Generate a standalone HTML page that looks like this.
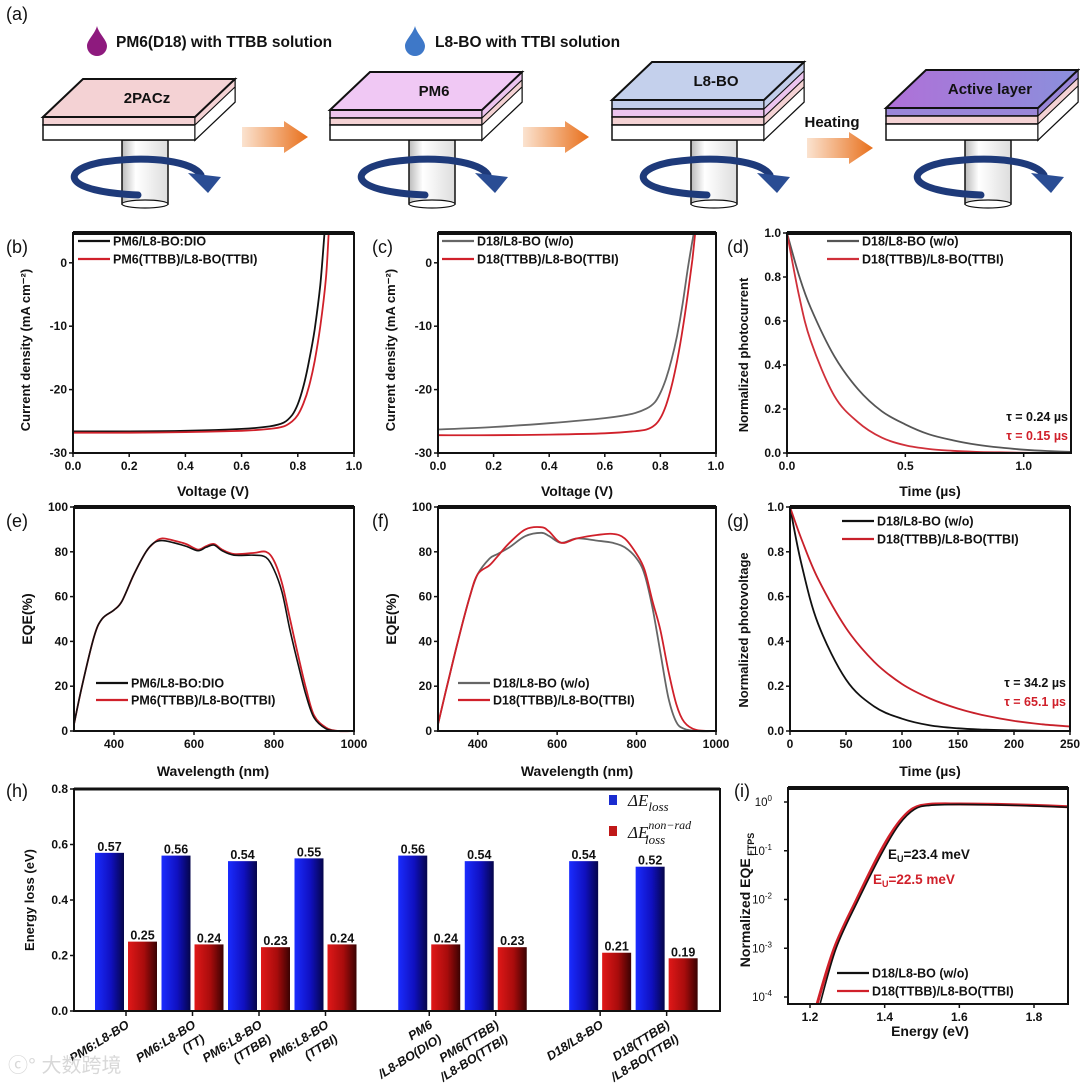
<!DOCTYPE html>
<html><head><meta charset="utf-8">
<style>
html,body{margin:0;padding:0;background:#fff;}
svg{display:block;font-family:"Liberation Sans",sans-serif;}
text{font-weight:bold;}
</style></head>
<body>
<svg id="fig" width="1080" height="1083" viewBox="0 0 1080 1083" xmlns="http://www.w3.org/2000/svg">
<defs>
<linearGradient id="gBlue" x1="0" x2="1" y1="0" y2="0"><stop offset="0" stop-color="#1a2cff"/><stop offset="0.55" stop-color="#1010c0"/><stop offset="1" stop-color="#05054a"/></linearGradient>
<linearGradient id="gRed" x1="0" x2="1" y1="0" y2="0"><stop offset="0" stop-color="#e01818"/><stop offset="0.55" stop-color="#a80c0c"/><stop offset="1" stop-color="#3a0202"/></linearGradient>
<linearGradient id="gOrange" x1="0" x2="1" y1="0" y2="0"><stop offset="0" stop-color="#fbe3d0"/><stop offset="1" stop-color="#e8701c"/></linearGradient>
<linearGradient id="gPillar" x1="0" x2="1" y1="0" y2="0"><stop offset="0" stop-color="#bbb"/><stop offset="0.3" stop-color="#fff"/><stop offset="1" stop-color="#ddd"/></linearGradient>
<linearGradient id="gActive" x1="0" x2="1" y1="0" y2="0"><stop offset="0" stop-color="#b070d8"/><stop offset="1" stop-color="#8a90dc"/></linearGradient>
</defs>
</svg>
<script>
const NS='http://www.w3.org/2000/svg';
const svg=document.getElementById('fig');
function mk(tag,attrs,name,parent){
  const e=document.createElementNS(NS,tag);
  for(const k in attrs) e.setAttribute(k,attrs[k]);
  
  
  (parent||svg).appendChild(e); return e;
}
function txt(x,y,s,name,opt){
  opt=opt||{};
  const t=mk('text',{x:x,y:y,'font-size':opt.size||12,fill:opt.fill||'#111','text-anchor':opt.anchor||'start'},name);
  if(opt.transform) t.setAttribute('transform',opt.transform);
  if(opt.style) t.setAttribute('style',opt.style);
  t.textContent=s; return t;
}

/* ---------------- DATA ---------------- */
const bV_black=[0,0.2,0.4,0.6,0.7,0.75,0.78,0.8,0.82,0.84,0.86,0.88,0.895];
const bJ_black=[-26.6,-26.6,-26.5,-26.2,-25.8,-25.2,-24.0,-22.3,-19.5,-15.5,-10.5,-3.5,4.7];
const bV_red=[0,0.2,0.4,0.6,0.7,0.75,0.78,0.8,0.82,0.84,0.86,0.88,0.9,0.91];
const bJ_red=[-26.8,-26.8,-26.7,-26.5,-26.2,-25.8,-25.0,-24.0,-22.2,-19.5,-15.5,-10.0,-2.5,4.7];
const cV_gray=[0,0.2,0.4,0.6,0.7,0.75,0.78,0.8,0.82,0.84,0.86,0.88,0.9,0.92];
const cJ_gray=[-26.3,-25.9,-25.3,-24.5,-23.8,-23.0,-22.0,-20.5,-18.3,-15.3,-11.5,-6.5,-0.5,4.7];
const cV_red=[0,0.2,0.4,0.6,0.7,0.75,0.78,0.8,0.82,0.84,0.86,0.88,0.9,0.915,0.925];
const cJ_red=[-27.2,-27.2,-27.1,-26.9,-26.6,-26.3,-25.6,-24.5,-22.5,-19.5,-15.5,-10.5,-4.5,0.5,4.7];
const dT=[0,0.05,0.1,0.2,0.3,0.4,0.5,0.6,0.7,0.8,0.9,1.0,1.1,1.2];
const dGray=[1.0,0.81,0.66,0.44,0.29,0.19,0.13,0.085,0.058,0.038,0.025,0.015,0.009,0.005];
const dRed=[1.0,0.72,0.51,0.26,0.14,0.07,0.035,0.018,0.01,0.005,0.003,0.001,0.0,0.0];
const eW=[300,320,350,370,400,420,450,480,500,520,550,580,610,630,650,670,700,750,780,800,820,840,860,880,900,930,960,1000];
const eBlack=[3,20,42,50,54,58,70,80,84,85,84,82.5,80.5,82,83,80.5,78.5,78.5,77.5,72,62,45,30,16,6,1,0,0];
const eRed=[3,20,42,50,54,58,70,80,84,86,85,83.5,81,82.5,83.5,81,79,79.5,80,76,66,50,34,19,7,1.5,0,0];
const fW=[300,320,350,380,400,430,450,480,520,560,580,610,650,700,740,770,800,820,840,860,880,900,920,950,1000];
const fGray=[3,18,40,60,70,77,79,82,87,88.5,87,84,86,85,84,82,77,70,55,35,15,4,1,0,0];
const fRed=[3,18,40,60,70,74,78,84,90,91,89,84,86,87.5,88,86,79,72,58,45,27,12,4,0.5,0];
const gT=[0,10,25,50,75,100,125,150,175,200,225,250];
const gBlack=[1.0,0.75,0.48,0.23,0.11,0.055,0.025,0.012,0.006,0.003,0.001,0.0];
const gRed=[1.0,0.86,0.68,0.46,0.31,0.21,0.145,0.1,0.068,0.045,0.03,0.02];
const hCats=[['PM6:L8-BO'],['PM6:L8-BO','(TT)'],['PM6:L8-BO','(TTBB)'],['PM6:L8-BO','(TTBI)'],['PM6','/L8-BO(DIO)'],['PM6(TTBB)','/L8-BO(TTBI)'],['D18/L8-BO'],['D18(TTBB)','/L8-BO(TTBI)']];
const hSlot=[0,1,2,3,4.56,5.56,7.13,8.13];
const hLoss=[0.57,0.56,0.54,0.55,0.56,0.54,0.54,0.52];
const hNonRad=[0.25,0.24,0.23,0.24,0.24,0.23,0.21,0.19];
const iE_black=[1.225,1.27,1.33,1.396,1.44,1.48,1.52,1.6,1.7,1.8,1.9];
const iL_black=[-4.2,-3.0,-2.0,-1.0,-0.45,-0.15,-0.07,-0.05,-0.06,-0.08,-0.11];
const iE_red=[1.215,1.265,1.325,1.39,1.435,1.475,1.52,1.6,1.7,1.8,1.9];
const iL_red=[-4.25,-3.0,-2.0,-1.0,-0.45,-0.14,-0.05,-0.04,-0.05,-0.07,-0.1];

/* ---------------- AXES ---------------- */
function lin(d0,d1,r0,r1){return v=>r0+(v-d0)*(r1-r0)/(d1-d0);}
function frame(p,name){
  mk('rect',{x:p.x0,y:p.y0,width:p.x1-p.x0,height:p.y1-p.y0,fill:'none',stroke:'#111','stroke-width':2},name+'-frame');
  mk('line',{x1:p.x0,x2:p.x1,y1:p.y0,y2:p.y0,stroke:'#111','stroke-width':4},name+'-top-axis');
}
function xticks(p,vals,labels,name){
  vals.forEach((v,i)=>{
    const x=p.sx(v);
    mk('line',{x1:x,x2:x,y1:p.y1,y2:p.y1+4,stroke:'#111','stroke-width':1.5},name+'-x-tick');
    txt(x,p.y1+17,labels[i],name+'-x-tick-label',{anchor:'middle',size:12});
  });
}
function yticks(p,vals,labels,name){
  vals.forEach((v,i)=>{
    const y=p.sy(v);
    mk('line',{x1:p.x0-4,x2:p.x0,y1:y,y2:y,stroke:'#111','stroke-width':1.5},name+'-y-tick');
    txt(p.x0-6,y+4,labels[i],name+'-y-tick-label',{anchor:'end',size:12});
  });
}
function series(p,xs,ys,color,name,w){
  const P=xs.map((x,i)=>[p.sx(x),p.sy(ys[i])]);
  let d='M'+P[0][0].toFixed(1)+','+P[0][1].toFixed(1);
  for(let i=0;i<P.length-1;i++){
    const p0=P[Math.max(0,i-1)],p1=P[i],p2=P[i+1],p3=P[Math.min(P.length-1,i+2)];
    const c1x=p1[0]+(p2[0]-p0[0])/6,c1y=p1[1]+(p2[1]-p0[1])/6;
    const c2x=p2[0]-(p3[0]-p1[0])/6,c2y=p2[1]-(p3[1]-p1[1])/6;
    d+=' C'+c1x.toFixed(1)+','+c1y.toFixed(1)+' '+c2x.toFixed(1)+','+c2y.toFixed(1)+' '+p2[0].toFixed(1)+','+p2[1].toFixed(1);
  }
  mk('path',{d:d,fill:'none',stroke:color,'stroke-width':w||1.8,'stroke-linejoin':'round'},name);
}
function clip(p,id){
  const c=mk('clipPath',{id:id},id);
  mk('rect',{x:p.x0,y:p.y0,width:p.x1-p.x0,height:p.y1-p.y0},id+'-rect',c);
}
function legendLine(x,y,color,label,name){
  mk('line',{x1:x,x2:x+32,y1:y,y2:y,stroke:color,'stroke-width':2.2},name+'-swatch');
  txt(x+35,y+4.5,label,name+'-label',{size:12.5});
}
function ytitle(x,yc,s,name,size){
  txt(x,yc,s,name,{anchor:'middle',size:size||13,transform:'rotate(-90 '+x+' '+yc+')'});
}

/* ---------- (a) schematic ---------- */
txt(6,20,'(a)','panel-label-a',{size:18,style:'font-weight:normal'});
function drop(x,y,color,name){
  mk('path',{d:`M${x},${y} C${x+2},${y+8} ${x+10},${y+14} ${x+10},${y+20} A10,10 0 1 1 ${x-10},${y+20} C${x-10},${y+14} ${x-2},${y+8} ${x},${y} Z`,fill:color},name);
}
drop(97,26,'#8e1a7e','ttbb-drop-icon');
txt(116,47,'PM6(D18) with TTBB solution','ttbb-solution-label',{size:15.5});
drop(415,26,'#3e78c8','ttbi-drop-icon');
txt(435,47,'L8-BO with TTBI solution','ttbi-solution-label',{size:15.5});

function stack(dx,layers,topColor,label,name){
  const W=152, OX=40, OY=38, bottom=140;
  let h=layers.reduce((a,l)=>a+l[1],0);
  const top=bottom-h;
  const x0=43+dx;
  mk('rect',{x:x0+79,y:bottom,width:46,height:64,fill:'url(#gPillar)',stroke:'#111','stroke-width':1.5},name+'-pillar');
  mk('ellipse',{cx:x0+102,cy:bottom+64,rx:23,ry:4,fill:'#fff',stroke:'#111','stroke-width':1.2},name+'-pillar-base');
  mk('path',{d:`M${x0+95},${bottom+55} C${x0+20},${bottom+52} ${x0+15},${bottom+30} ${x0+60},${bottom+22} C${x0+110},${bottom+15} ${x0+150},${bottom+22} ${x0+158},${bottom+35}`,fill:'none',stroke:'#1e3a7a','stroke-width':7,'stroke-linecap':'round'},name+'-rotation-arrow');
  mk('path',{d:`M${x0+145},${bottom+33} L${x0+178},${bottom+37} L${x0+165},${bottom+53} Z`,fill:'#2a4d94'},name+'-rotation-arrowhead');
  mk('polygon',{points:`${x0+W},${top} ${x0+W+OX},${top-OY} ${x0+W+OX},${bottom-OY} ${x0+W},${bottom}`,fill:'#ddd',stroke:'#111','stroke-width':1.5},name+'-side');
  let y=top;
  layers.forEach((l,i)=>{
    mk('rect',{x:x0,y:y,width:W,height:l[1],fill:l[0],stroke:'#111','stroke-width':1.5},name+'-layer-'+i);
    mk('polygon',{points:`${x0+W},${y} ${x0+W+OX},${y-OY} ${x0+W+OX},${y-OY+l[1]} ${x0+W},${y+l[1]}`,fill:l[0],stroke:'#111','stroke-width':1},name+'-layer-side-'+i);
    y+=l[1];
  });
  mk('polygon',{points:`${x0},${top} ${x0+OX},${top-OY} ${x0+W+OX},${top-OY} ${x0+W},${top}`,fill:topColor,stroke:'#111','stroke-width':2},name+'-top-face');
  txt(x0+(W+OX)/2+8,top-OY/2+5,label,name+'-label',{anchor:'middle',size:15});
}
stack(0,[['#f4d2d4',8],['#fff',15]],'#f4d2d4','2PACz','stack-2pacz');
stack(287,[['#ecc4ee',8],['#f4d2d4',7],['#fff',15]],'#f0c8f4','PM6','stack-pm6');
stack(569,[['#c2cdea',9],['#ecc4ee',8],['#f4d2d4',8],['#fff',15]],'#c4d0ec','L8-BO','stack-l8bo');
stack(843,[['#9a86d8',8],['#f4d2d4',8],['#fff',16]],'url(#gActive)','Active layer','stack-active-layer');
function orangeArrow(x,y,name){
  mk('path',{d:`M${x},${y+6} L${x+42},${y+6} L${x+42},${y} L${x+66},${y+16} L${x+42},${y+32} L${x+42},${y+26} L${x},${y+26} Z`,fill:'url(#gOrange)'},name);
}
orangeArrow(242,121,'process-arrow-1');
orangeArrow(523,121,'process-arrow-2');
orangeArrow(807,132,'process-arrow-3');
txt(832,127,'Heating','heating-label',{anchor:'middle',size:15});

/* ---------- (b) ---------- */
const pb={x0:73,x1:354,y0:233,y1:453};pb.sx=lin(0,1,pb.x0,pb.x1);pb.sy=lin(-30,4.7,pb.y1,pb.y0);
clip(pb,'clip-b');
const gb=mk('g',{'clip-path':'url(#clip-b)'},'plot-b-series');
series(pb,bV_black,bJ_black,'#111','b-series-pm6-dio');gb.appendChild(svg.lastChild);
series(pb,bV_red,bJ_red,'#d0202a','b-series-ttbb-ttbi');gb.appendChild(svg.lastChild);
frame(pb,'plot-b');
xticks(pb,[0,0.2,0.4,0.6,0.8,1.0],['0.0','0.2','0.4','0.6','0.8','1.0'],'plot-b');
yticks(pb,[-30,-20,-10,0],['-30','-20','-10','0'],'plot-b');
ytitle(30,350,'Current density (mA cm\u207B\u00B2)','plot-b-y-title',13);
txt(213,496,'Voltage (V)','plot-b-x-title',{anchor:'middle',size:14});
legendLine(78,241,'#111','PM6/L8-BO:DIO','b-legend-pm6-dio');
legendLine(78,259,'#d0202a','PM6(TTBB)/L8-BO(TTBI)','b-legend-ttbb-ttbi');
txt(6,253,'(b)','panel-label-b',{size:18,style:'font-weight:normal'});

/* ---------- (c) ---------- */
const pc={x0:438,x1:716,y0:233,y1:453};pc.sx=lin(0,1,pc.x0,pc.x1);pc.sy=lin(-30,4.7,pc.y1,pc.y0);
clip(pc,'clip-c');
const gc=mk('g',{'clip-path':'url(#clip-c)'},'plot-c-series');
series(pc,cV_gray,cJ_gray,'#666','c-series-wo');gc.appendChild(svg.lastChild);
series(pc,cV_red,cJ_red,'#d0202a','c-series-ttbb-ttbi');gc.appendChild(svg.lastChild);
frame(pc,'plot-c');
xticks(pc,[0,0.2,0.4,0.6,0.8,1.0],['0.0','0.2','0.4','0.6','0.8','1.0'],'plot-c');
yticks(pc,[-30,-20,-10,0],['-30','-20','-10','0'],'plot-c');
ytitle(395,350,'Current density (mA cm\u207B\u00B2)','plot-c-y-title',13);
txt(577,496,'Voltage (V)','plot-c-x-title',{anchor:'middle',size:14});
legendLine(442,241,'#666','D18/L8-BO (w/o)','c-legend-wo');
legendLine(442,259,'#d0202a','D18(TTBB)/L8-BO(TTBI)','c-legend-ttbb-ttbi');
txt(372,253,'(c)','panel-label-c',{size:18,style:'font-weight:normal'});

/* ---------- (d) ---------- */
const pd={x0:787,x1:1071,y0:233,y1:453};pd.sx=lin(0,1.2,pd.x0,pd.x1);pd.sy=lin(0,1,pd.y1,pd.y0);
series(pd,dT,dGray,'#555','d-series-wo');
series(pd,dT,dRed,'#d0303a','d-series-ttbb-ttbi');
frame(pd,'plot-d');
xticks(pd,[0,0.5,1.0],['0.0','0.5','1.0'],'plot-d');
yticks(pd,[0,0.2,0.4,0.6,0.8,1.0],['0.0','0.2','0.4','0.6','0.8','1.0'],'plot-d');
ytitle(748,355,'Normalized photocurrent','plot-d-y-title',13);
txt(930,496,'Time (\u00B5s)','plot-d-x-title',{anchor:'middle',size:14});
legendLine(827,241,'#555','D18/L8-BO (w/o)','d-legend-wo');
legendLine(827,259,'#d0303a','D18(TTBB)/L8-BO(TTBI)','d-legend-ttbb-ttbi');
txt(1068,421,'\u03C4 = 0.24 \u00B5s','d-tau-wo',{anchor:'end',size:12.5});
txt(1068,440,'\u03C4 = 0.15 \u00B5s','d-tau-ttbb',{anchor:'end',size:12.5,fill:'#d0202a'});
txt(727,253,'(d)','panel-label-d',{size:18,style:'font-weight:normal'});

/* ---------- (e) ---------- */
const pe={x0:74,x1:354,y0:507,y1:731};pe.sx=lin(300,1000,pe.x0,pe.x1);pe.sy=lin(0,100,pe.y1,pe.y0);
series(pe,eW,eRed,'#d0202a','e-series-ttbb-ttbi');
series(pe,eW,eBlack,'#111','e-series-pm6-dio',1.6);
frame(pe,'plot-e');
xticks(pe,[400,600,800,1000],['400','600','800','1000'],'plot-e');
yticks(pe,[0,20,40,60,80,100],['0','20','40','60','80','100'],'plot-e');
ytitle(32,619,'EQE(%)','plot-e-y-title',14);
txt(213,776,'Wavelength (nm)','plot-e-x-title',{anchor:'middle',size:14});
legendLine(96,683,'#111','PM6/L8-BO:DIO','e-legend-pm6-dio');
legendLine(96,700,'#d0202a','PM6(TTBB)/L8-BO(TTBI)','e-legend-ttbb-ttbi');
txt(6,527,'(e)','panel-label-e',{size:18,style:'font-weight:normal'});

/* ---------- (f) ---------- */
const pf={x0:438,x1:716,y0:507,y1:731};pf.sx=lin(300,1000,pf.x0,pf.x1);pf.sy=lin(0,100,pf.y1,pf.y0);
series(pf,fW,fGray,'#666','f-series-wo');
series(pf,fW,fRed,'#d0202a','f-series-ttbb-ttbi');
frame(pf,'plot-f');
xticks(pf,[400,600,800,1000],['400','600','800','1000'],'plot-f');
yticks(pf,[0,20,40,60,80,100],['0','20','40','60','80','100'],'plot-f');
ytitle(396,619,'EQE(%)','plot-f-y-title',14);
txt(577,776,'Wavelength (nm)','plot-f-x-title',{anchor:'middle',size:14});
legendLine(458,683,'#666','D18/L8-BO (w/o)','f-legend-wo');
legendLine(458,700,'#d0202a','D18(TTBB)/L8-BO(TTBI)','f-legend-ttbb-ttbi');
txt(372,527,'(f)','panel-label-f',{size:18,style:'font-weight:normal'});

/* ---------- (g) ---------- */
const pg={x0:790,x1:1070,y0:507,y1:731};pg.sx=lin(0,250,pg.x0,pg.x1);pg.sy=lin(0,1,pg.y1,pg.y0);
series(pg,gT,gBlack,'#111','g-series-wo');
series(pg,gT,gRed,'#c8202a','g-series-ttbb-ttbi');
frame(pg,'plot-g');
xticks(pg,[0,50,100,150,200,250],['0','50','100','150','200','250'],'plot-g');
yticks(pg,[0,0.2,0.4,0.6,0.8,1.0],['0.0','0.2','0.4','0.6','0.8','1.0'],'plot-g');
ytitle(748,630,'Normalized photovoltage','plot-g-y-title',13);
txt(930,776,'Time (\u00B5s)','plot-g-x-title',{anchor:'middle',size:14});
legendLine(842,521,'#111','D18/L8-BO (w/o)','g-legend-wo');
legendLine(842,539,'#c8202a','D18(TTBB)/L8-BO(TTBI)','g-legend-ttbb-ttbi');
txt(1066,687,'\u03C4 = 34.2 \u00B5s','g-tau-wo',{anchor:'end',size:12.5});
txt(1066,706,'\u03C4 = 65.1 \u00B5s','g-tau-ttbb',{anchor:'end',size:12.5,fill:'#d0202a'});
txt(727,527,'(g)','panel-label-g',{size:18,style:'font-weight:normal'});

/* ---------- (h) ---------- */
const ph={x0:74,x1:720,y0:789,y1:1011};ph.sy=lin(0,0.8,ph.y1,ph.y0);
const slotX=lin(0,1,95,161.5);
hSlot.forEach((s,i)=>{
  const bx=slotX(s);
  const yb=ph.sy(hLoss[i]);
  mk('rect',{x:bx,y:yb,width:29,height:ph.y1-yb,fill:'url(#gBlue)'},'bar-loss-'+i);
  txt(bx+14.5,yb-2,hLoss[i].toFixed(2),'bar-loss-value-'+i,{anchor:'middle',size:12.5});
  const rx=bx+33;
  const yr=ph.sy(hNonRad[i]);
  mk('rect',{x:rx,y:yr,width:29,height:ph.y1-yr,fill:'url(#gRed)'},'bar-nonrad-'+i);
  txt(rx+14.5,yr-2,hNonRad[i].toFixed(2),'bar-nonrad-value-'+i,{anchor:'middle',size:12.5});
  const cx=bx+31;
  mk('line',{x1:cx,x2:cx,y1:ph.y1,y2:ph.y1+5,stroke:'#111','stroke-width':1.5},'h-x-tick');
  const lines=hCats[i];
  lines.forEach((ln,j)=>{
    txt(cx+4+j*9,ph.y1+16+j*14,ln,'h-category-label',{anchor:'end',size:12.5,transform:`rotate(-32 ${cx+4+j*9} ${ph.y1+16+j*14})`,style:'font-style:italic'});
  });
});
mk('rect',{x:ph.x0,y:ph.y0,width:ph.x1-ph.x0,height:ph.y1-ph.y0,fill:'none',stroke:'#111','stroke-width':2},'plot-h-frame');
mk('line',{x1:ph.x0,x2:ph.x1,y1:ph.y0,y2:ph.y0,stroke:'#111','stroke-width':3},'plot-h-top-axis');
yticks(ph,[0,0.2,0.4,0.6,0.8],['0.0','0.2','0.4','0.6','0.8'],'plot-h');
ytitle(34,900,'Energy loss (eV)','plot-h-y-title',13);
mk('rect',{x:609,y:795,width:8,height:10,fill:'#1a2cd0'},'h-legend-loss-swatch');
const tl=txt(628,806,'\u0394E','h-legend-loss-label',{size:17,style:'font-family:"Liberation Serif",serif;font-style:italic;font-weight:normal'});
const ts1=document.createElementNS(NS,'tspan');ts1.setAttribute('dy','5');ts1.setAttribute('font-size','13');ts1.textContent='loss';tl.appendChild(ts1);
mk('rect',{x:609,y:826,width:8,height:10,fill:'#c01818'},'h-legend-nonrad-swatch');
const tn=txt(628,838,'\u0394E','h-legend-nonrad-label',{size:17,style:'font-family:"Liberation Serif",serif;font-style:italic;font-weight:normal'});
const ts2=document.createElementNS(NS,'tspan');ts2.setAttribute('dy','-9');ts2.setAttribute('font-size','12');ts2.textContent='non\u2212rad';tn.appendChild(ts2);
const ts3=document.createElementNS(NS,'tspan');ts3.setAttribute('x','645');ts3.setAttribute('dy','15');ts3.setAttribute('font-size','13');ts3.textContent='loss';tn.appendChild(ts3);
txt(6,797,'(h)','panel-label-h',{size:18,style:'font-weight:normal'});

/* ---------- (i) ---------- */
const pi={x0:788,x1:1068,y0:788,y1:1004};pi.sx=lin(1.2,1.8,810,1034);pi.sy=lin(0,-4,802,997);
clip(pi,'clip-i');
const gi=mk('g',{'clip-path':'url(#clip-i)'},'plot-i-series');
series(pi,iE_red,iL_red,'#d0202a','i-series-ttbb-ttbi',3);gi.appendChild(svg.lastChild);
series(pi,iE_black,iL_black,'#111','i-series-wo',1.6);gi.appendChild(svg.lastChild);
frame(pi,'plot-i');
xticks(pi,[1.2,1.4,1.6,1.8],['1.2','1.4','1.6','1.8'],'plot-i');
[0,-1,-2,-3,-4].forEach(v=>{
  const y=pi.sy(v);
  mk('line',{x1:pi.x0-4,x2:pi.x0,y1:y,y2:y,stroke:'#111','stroke-width':1.5},'plot-i-y-tick');
  const t=txt(pi.x0-16,y+4,'10','plot-i-y-tick-label',{anchor:'end',size:11.5,style:'font-weight:normal'});
  const sp=document.createElementNS(NS,'tspan');sp.setAttribute('dy','-5');sp.setAttribute('font-size','8');sp.textContent=(v===0?'0':'-'+(-v));t.appendChild(sp);
});
const yi=txt(750,900,'Normalized EQE','plot-i-y-title',{anchor:'middle',size:14,transform:'rotate(-90 750 900)'});
const yis=document.createElementNS(NS,'tspan');yis.setAttribute('font-size','9');yis.setAttribute('dy','4');yis.textContent=' FTPS';yi.appendChild(yis);
txt(930,1036,'Energy (eV)','plot-i-x-title',{anchor:'middle',size:14});
const eu1=txt(888,859,'E','i-urbach-wo',{size:13.5});
const eu1s=document.createElementNS(NS,'tspan');eu1s.setAttribute('font-size','9');eu1s.setAttribute('dy','3');eu1s.textContent='U';eu1.appendChild(eu1s);
const eu1t=document.createElementNS(NS,'tspan');eu1t.setAttribute('dy','-3');eu1t.textContent='=23.4 meV';eu1.appendChild(eu1t);
const eu2=txt(873,884,'E','i-urbach-ttbb',{size:13.5,fill:'#d0202a'});
const eu2s=document.createElementNS(NS,'tspan');eu2s.setAttribute('font-size','9');eu2s.setAttribute('dy','3');eu2s.textContent='U';eu2.appendChild(eu2s);
const eu2t=document.createElementNS(NS,'tspan');eu2t.setAttribute('dy','-3');eu2t.textContent='=22.5 meV';eu2.appendChild(eu2t);
legendLine(837,973,'#111','D18/L8-BO (w/o)','i-legend-wo');
legendLine(837,991,'#d0202a','D18(TTBB)/L8-BO(TTBI)','i-legend-ttbb-ttbi');
txt(734,797,'(i)','panel-label-i',{size:18,style:'font-weight:normal'});

/* watermark */
txt(8,1072,'\u24D2\u00B0 大数跨境','watermark',{size:20,fill:'#d8d8d8',style:'font-family:"Liberation Sans","Noto Sans CJK SC",sans-serif;font-weight:normal'});
</script>
</body></html>
